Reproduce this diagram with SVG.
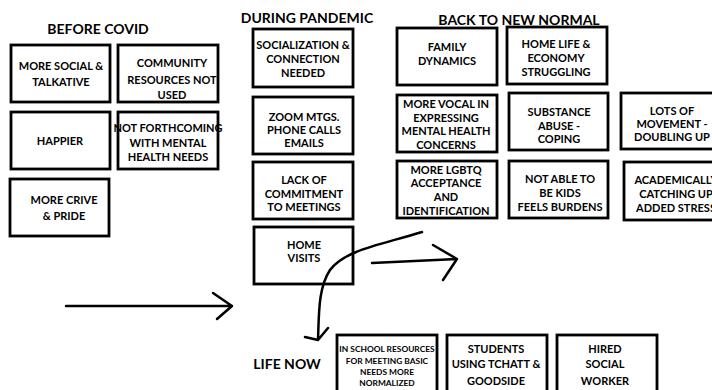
<svg xmlns="http://www.w3.org/2000/svg" width="712" height="390" viewBox="0 0 712 390">
  <style>
    text { font-family: Lato, "Open Sans", "Liberation Sans", sans-serif; font-weight: bold; fill: #000; text-anchor: middle; }
    .title { font-size: 14px; }
    .t { font-size: 11px; }
    .s { font-size: 8.4px; }
    .box { fill: #fff; stroke: #000; stroke-width: 2.8; }
    .line { fill: none; stroke: #000; stroke-width: 2.5; stroke-linecap: round; stroke-linejoin: round; }
  </style>
  <rect width="712" height="390" fill="#fff"/>

  <!-- Column headings -->
  <text class="title" x="98" y="34">BEFORE COVID</text>
  <text class="title" x="307" y="23">DURING PANDEMIC</text>
  <text class="title" x="519" y="25">BACK TO NEW NORMAL</text>
  <text class="title" x="287" y="369">LIFE NOW</text>

  <!-- Before COVID -->
  <g id="more-social">
    <rect class="box" x="11" y="45" width="99" height="57"/>
    <text class="t" x="61" y="70">MORE SOCIAL &amp;</text>
    <text class="t" x="61" y="86">TALKATIVE</text>
  </g>
  <g id="community-resources">
    <rect class="box" x="118" y="45" width="100" height="57"/>
    <text class="t" x="172" y="67">COMMUNITY</text>
    <text class="t" x="172" y="84">RESOURCES NOT</text>
    <text class="t" x="172" y="99">USED</text>
  </g>
  <g id="happier">
    <rect class="box" x="11" y="112" width="99" height="57"/>
    <text class="t" x="60" y="145">HAPPIER</text>
  </g>
  <g id="not-forthcoming">
    <rect class="box" x="118" y="112" width="100" height="57"/>
    <text class="t" x="168" y="132">NOT FORTHCOMING</text>
    <text class="t" x="168" y="147">WITH MENTAL</text>
    <text class="t" x="168" y="161">HEALTH NEEDS</text>
  </g>
  <g id="more-crive">
    <rect class="box" x="10" y="179" width="99" height="57"/>
    <text class="t" x="64" y="204">MORE CRIVE</text>
    <text class="t" x="64" y="220">&amp; PRIDE</text>
  </g>

  <!-- During pandemic -->
  <g id="socialization">
    <rect class="box" x="253" y="29" width="100" height="58"/>
    <text class="t" x="303" y="49">SOCIALIZATION &amp;</text>
    <text class="t" x="303" y="63">CONNECTION</text>
    <text class="t" x="303" y="77">NEEDED</text>
  </g>
  <g id="zoom-mtgs">
    <rect class="box" x="253" y="97" width="100" height="57"/>
    <text class="t" x="304" y="121">ZOOM MTGS.</text>
    <text class="t" x="304" y="134">PHONE CALLS</text>
    <text class="t" x="304" y="147">EMAILS</text>
  </g>
  <g id="lack-of-commitment">
    <rect class="box" x="253" y="162" width="100" height="57"/>
    <text class="t" x="304" y="184">LACK OF</text>
    <text class="t" x="304" y="198">COMMITMENT</text>
    <text class="t" x="304" y="211">TO MEETINGS</text>
  </g>
  <g id="home-visits">
    <rect class="box" x="254" y="227" width="99" height="57"/>
    <text class="t" x="304" y="249">HOME</text>
    <text class="t" x="304" y="262">VISITS</text>
  </g>

  <!-- Back to new normal -->
  <g id="family-dynamics">
    <rect class="box" x="397" y="28" width="100" height="57"/>
    <text class="t" x="447" y="51">FAMILY</text>
    <text class="t" x="447" y="65">DYNAMICS</text>
  </g>
  <g id="home-life">
    <rect class="box" x="507" y="27" width="100" height="57"/>
    <text class="t" x="556" y="48">HOME LIFE &amp;</text>
    <text class="t" x="556" y="62">ECONOMY</text>
    <text class="t" x="556" y="76">STRUGGLING</text>
  </g>
  <g id="more-vocal">
    <rect class="box" x="397" y="95" width="100" height="57"/>
    <text class="t" x="446" y="108">MORE VOCAL IN</text>
    <text class="t" x="446" y="122">EXPRESSING</text>
    <text class="t" x="446" y="135">MENTAL HEALTH</text>
    <text class="t" x="446" y="149">CONCERNS</text>
  </g>
  <g id="substance-abuse">
    <rect class="box" x="509" y="93" width="99" height="57"/>
    <text class="t" x="559" y="116">SUBSTANCE</text>
    <text class="t" x="559" y="130">ABUSE -</text>
    <text class="t" x="559" y="143">COPING</text>
  </g>
  <g id="lots-of-movement">
    <rect class="box" x="621" y="93" width="100" height="56"/>
    <text class="t" x="672" y="115">LOTS OF</text>
    <text class="t" x="672" y="128">MOVEMENT -</text>
    <text class="t" x="672" y="141">DOUBLING UP</text>
  </g>
  <g id="more-lgbtq">
    <rect class="box" x="397" y="161" width="100" height="57"/>
    <text class="t" x="446" y="174">MORE LGBTQ</text>
    <text class="t" x="446" y="187">ACCEPTANCE</text>
    <text class="t" x="446" y="201">AND</text>
    <text class="t" x="446" y="215">IDENTIFICATION</text>
  </g>
  <g id="not-able-to-be-kids">
    <rect class="box" x="509" y="161" width="99" height="57"/>
    <text class="t" x="560" y="183">NOT ABLE TO</text>
    <text class="t" x="560" y="197">BE KIDS</text>
    <text class="t" x="560" y="211">FEELS BURDENS</text>
  </g>
  <g id="academically">
    <rect class="box" x="624" y="162" width="100" height="58"/>
    <text class="t" x="676" y="184">ACADEMICALLY</text>
    <text class="t" x="676" y="198">CATCHING UP</text>
    <text class="t" x="676" y="212">ADDED STRESS</text>
  </g>

  <!-- Life now -->
  <g id="in-school-resources">
    <rect class="box" x="337" y="335" width="100" height="70"/>
    <text class="s" x="387" y="352">IN SCHOOL RESOURCES</text>
    <text class="s" x="387" y="364">FOR MEETING BASIC</text>
    <text class="s" x="387" y="375">NEEDS MORE</text>
    <text class="s" x="387" y="386">NORMALIZED</text>
  </g>
  <g id="students-using">
    <rect class="box" x="447" y="335" width="100" height="70"/>
    <text class="t" x="496" y="353">STUDENTS</text>
    <text class="t" x="496" y="368">USING TCHATT &amp;</text>
    <text class="t" x="496" y="385">GOODSIDE</text>
  </g>
  <g id="hired-social-worker">
    <rect class="box" x="557" y="335" width="100" height="70"/>
    <text class="t" x="605" y="353">HIRED</text>
    <text class="t" x="605" y="368">SOCIAL</text>
    <text class="t" x="605" y="385">WORKER</text>
  </g>

  <!-- Hand-drawn arrows -->
  <g id="connectors">
    <path class="line" d="M66 306 L232 306 M213 293 L232 306 L217 319"/>
    <path class="line" d="M372 263 L457 259 M433 245 L457 259 L443 280"/>
    <path class="line" d="M422 232 C380 245 345 250 330 270 C318 288 319 315 318 340 M305 337 L318 340 L328 328"/>
  </g>
</svg>
